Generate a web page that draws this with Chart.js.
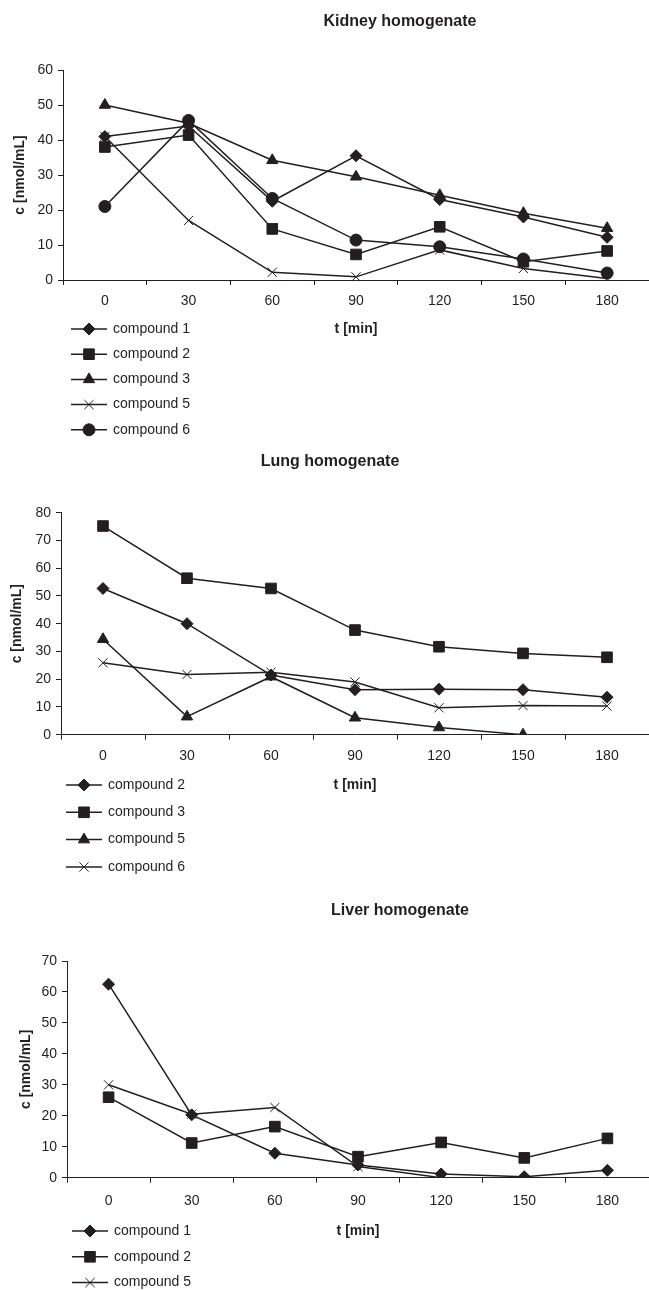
<!DOCTYPE html>
<html lang="en">
<head>
<meta charset="UTF-8">
<title>Homogenate stability</title>
<script src="https://cdn.jsdelivr.net/npm/chart.js@4.4.1/dist/chart.umd.min.js"></script>
<style>
  body { margin: 0; background: #fff; }
  .panel { position: absolute; left: 0; width: 649px; }
</style>
</head>
<body>
<div class="panel" style="top:0;height:440px"><canvas id="kidney"></canvas></div>
<div class="panel" style="top:440px;height:445px"><canvas id="lung"></canvas></div>
<div class="panel" style="top:888px;height:402px"><canvas id="liver"></canvas></div>
<script>
// sampling times, min
const timeLabels = ['0', '30', '60', '90', '120', '150', '180'];

// kidney homogenate, c [nmol/mL]
const kidneyNames = ['compound 1', 'compound 2', 'compound 3', 'compound 5', 'compound 6'];
const kidneyC1 = [41, 44, 22.5, 35.5, 23, 18, 12.2];
const kidneyC2 = [38, 41.4, 14.6, 7.3, 15.2, 5.2, 8.3];
const kidneyC3 = [50, 44.8, 34.2, 29.5, 24.2, 19.1, 14.8];
const kidneyC5 = [41, 17, 2.2, 0.9, 8.6, 3.3, 0.4];
const kidneyC6 = [21, 45.6, 23.3, 11.4, 9.5, 6, 2];

// lung homogenate
const lungNames = ['compound 2', 'compound 3', 'compound 5', 'compound 6'];
const lungC2 = [52.7, 40, 21.5, 16.2, 16.4, 16.2, 13.5];
const lungC3 = [75.2, 56.4, 52.7, 37.7, 31.7, 29.3, 27.9];
const lungC5 = [34.4, 6.5, 20.9, 6.1, 2.6, 0, null];
const lungC6 = [25.9, 21.7, 22.5, 19, 9.7, 10.5, 10.3];

// liver homogenate
const liverNames = ['compound 1', 'compound 2', 'compound 5'];
const liverC1 = [62.5, 20.3, 7.9, 4.1, 1.2, 0.3, 2.4];
const liverC2 = [26, 11.2, 16.5, 6.8, 11.4, 6.4, 12.7];
const liverC5 = [30, 20.5, 22.7, 3.6, 0, null, null];

const ink = '#231f20';
const fam = '"Liberation Sans", Arial, sans-serif';

// marker shapes as in the print
const DIAMOND = { pointStyle: 'rectRot', pointRadius: 6 };
const SQUARE = { pointStyle: 'rect', pointRadius: 7.5 };
const TRIANGLE = { pointStyle: 'triangle', pointRadius: 6.5 };
const CROSS = { pointStyle: 'crossRot', pointRadius: 6.5 };
const DOT = { pointStyle: 'circle', pointRadius: 6 };

// title + legend drawn by hand: legend sits bottom-left, beside the x title
const panelDecor = {
  id: 'panelDecor',
  afterDraw(chart, args, o) {
    const ctx = chart.ctx;
    ctx.save();
    ctx.fillStyle = ink;
    ctx.font = 'bold 16px ' + fam;
    ctx.textAlign = 'center';
    ctx.textBaseline = 'middle';
    ctx.fillText(o.title, o.titleX, o.titleY);

    ctx.font = '14px ' + fam;
    ctx.textAlign = 'left';
    chart.data.datasets.forEach((ds, i) => {
      const y = o.legendY + i * o.legendStep;
      ctx.strokeStyle = ink;
      ctx.lineWidth = 1.5;
      ctx.beginPath();
      ctx.moveTo(o.legendX, y);
      ctx.lineTo(o.legendX + 36, y);
      ctx.stroke();
      ctx.lineWidth = 1;
      Chart.helpers.drawPoint(ctx, {
        pointStyle: ds.pointStyle, radius: ds.pointRadius, rotation: 0, borderWidth: 1
      }, o.legendX + 18, y);
      ctx.fillStyle = ink;
      ctx.fillText(ds.label, o.legendX + 42, y);
    });
    ctx.restore();
  }
};

function makePanel(id, names, series, shapes, p) {
  const datasets = series.map((vals, i) => Object.assign({
    label: names[i],
    data: vals,
    borderColor: ink,
    backgroundColor: ink,
    pointBackgroundColor: ink,
    pointBorderColor: ink,
    borderWidth: 1.5,
    pointBorderWidth: 1,
    tension: 0,
    spanGaps: false
  }, shapes[i]));

  const el = document.getElementById(id);
  const H = el.parentNode.clientHeight;
  const xH = 64;

  new Chart(el, {
    type: 'line',
    data: { labels: timeLabels, datasets: datasets },
    options: {
      responsive: true,
      maintainAspectRatio: false,
      animation: false,
      layout: {
        autoPadding: false,
        padding: { top: p.areaTop, bottom: H - p.areaBottom - xH, left: 0, right: 0 }
      },
      plugins: {
        legend: { display: false },
        tooltip: { enabled: false },
        panelDecor: {
          title: p.title, titleX: p.titleX, titleY: p.titleY,
          legendX: p.legendX, legendY: p.legendY, legendStep: p.legendStep
        }
      },
      scales: {
        x: {
          type: 'category',
          offset: true,
          grid: { offset: true, drawOnChartArea: false, tickLength: 5, color: ink },
          border: { color: ink, width: 1 },
          ticks: { color: ink, font: { family: fam, size: 14 }, padding: p.tickPad, maxRotation: 0 },
          title: {
            display: true, text: 't [min]', color: ink,
            font: { family: fam, size: 14, weight: 'bold' },
            padding: { top: 0, bottom: p.areaBottom + xH - 8.4 - p.legendY }
          },
          afterFit: s => { s.height = xH; }
        },
        y: {
          min: 0,
          max: p.yMax,
          grid: { drawOnChartArea: false, tickLength: 5, color: ink },
          border: { color: ink, width: 1 },
          ticks: { stepSize: 10, color: ink, font: { family: fam, size: 14 }, padding: 5 },
          title: {
            display: true, text: 'c [nmol/mL]', color: ink,
            font: { family: fam, size: 14, weight: 'bold' },
            padding: { top: p.yTitleX - 8.4, bottom: 0 }
          },
          afterFit: s => { s.width = p.areaLeft; }
        }
      }
    },
    plugins: [panelDecor]
  });
}

makePanel('kidney', kidneyNames,
  [kidneyC1, kidneyC2, kidneyC3, kidneyC5, kidneyC6],
  [DIAMOND, SQUARE, TRIANGLE, CROSS, DOT],
  { title: 'Kidney homogenate', titleX: 400, titleY: 22, yMax: 60,
    areaTop: 70, areaBottom: 280, areaLeft: 63, yTitleX: 20, tickPad: 8,
    legendX: 71, legendY: 329, legendStep: 25.2 });

makePanel('lung', lungNames,
  [lungC2, lungC3, lungC5, lungC6],
  [DIAMOND, SQUARE, TRIANGLE, CROSS],
  { title: 'Lung homogenate', titleX: 330, titleY: 22, yMax: 80,
    areaTop: 72.7, areaBottom: 294.7, areaLeft: 61, yTitleX: 17, tickPad: 8,
    legendX: 66, legendY: 345, legendStep: 27.3 });

makePanel('liver', liverNames,
  [liverC1, liverC2, liverC5],
  [DIAMOND, SQUARE, CROSS],
  { title: 'Liver homogenate', titleX: 400, titleY: 22.7, yMax: 70,
    areaTop: 73, areaBottom: 289.7, areaLeft: 67, yTitleX: 26, tickPad: 10,
    legendX: 72, legendY: 343, legendStep: 25.8 });
</script>
</body>
</html>
